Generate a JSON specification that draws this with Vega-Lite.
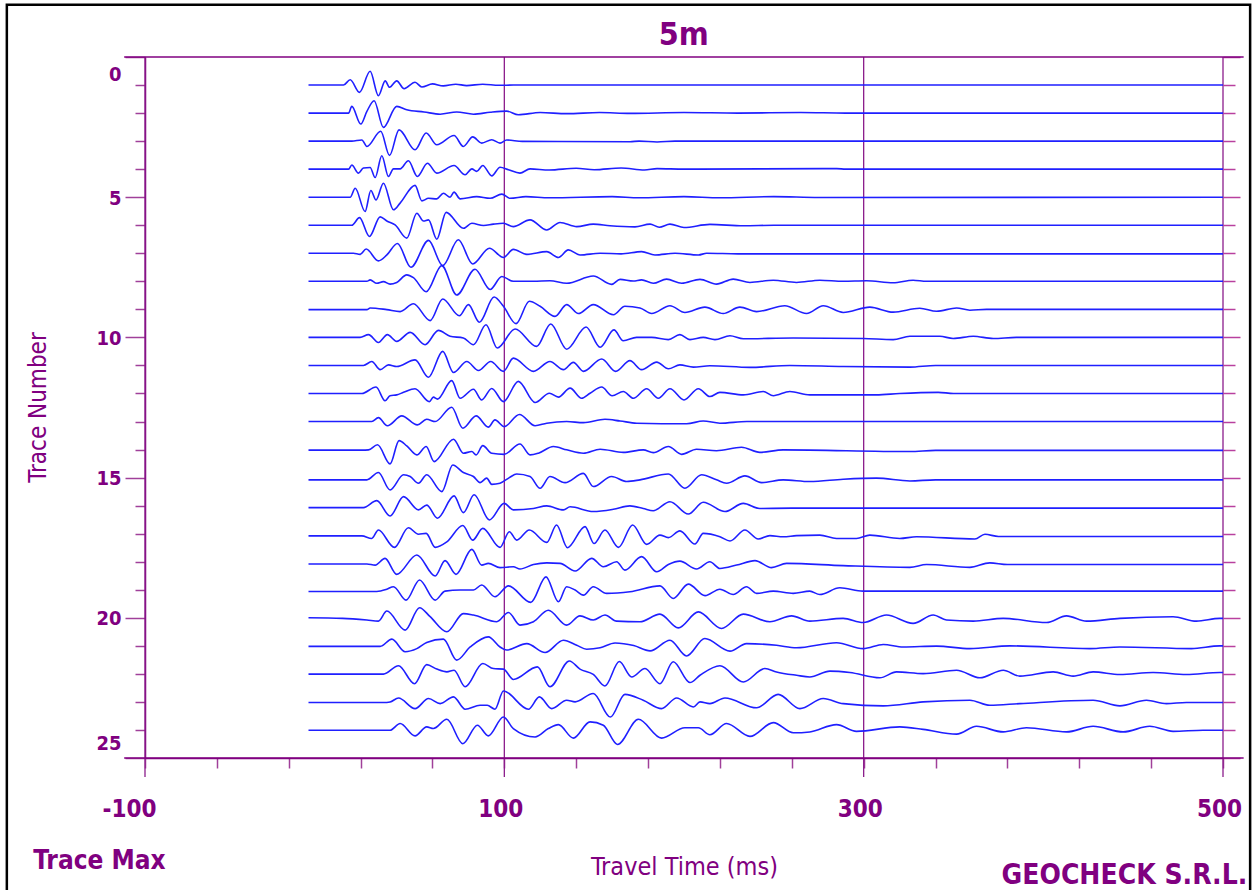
{
"$schema": "https://vega.github.io/schema/vega-lite/v6.json",
"width": 1078, "height": 701,
"autosize": {"type": "none"},
"padding": {"left": 145, "top": 57, "right": 34, "bottom": 132},
"background": "white",
"config": {"view": {"stroke": null}},
"resolve": {"axis": {"x": "independent", "y": "independent"}},
"datasets": {"traces": [
{"tr":1,"t":-9,"y":1},{"tr":1,"t":10.5,"y":1},{"tr":1,"t":14.2,"y":0.81},{"tr":1,"t":19.4,"y":1.26},{"tr":1,"t":25.3,"y":0.51},{"tr":1,"t":29.9,"y":1.38},{"tr":1,"t":33.7,"y":0.85},{"tr":1,"t":36.1,"y":1.08},{"tr":1,"t":40.1,"y":0.85},{"tr":1,"t":44.2,"y":1.13},{"tr":1,"t":50.3,"y":0.9},{"tr":1,"t":54.1,"y":1.07},{"tr":1,"t":60,"y":0.96},{"tr":1,"t":66,"y":1.03},{"tr":1,"t":73,"y":0.97},{"tr":1,"t":79,"y":1.02},{"tr":1,"t":88,"y":0.97},{"tr":1,"t":97,"y":1.01},{"tr":1,"t":105,"y":1},{"tr":1,"t":500,"y":1},
{"tr":2,"t":-9,"y":2},{"tr":2,"t":13.3,"y":2},{"tr":2,"t":15.1,"y":1.76},{"tr":2,"t":20.1,"y":2.39},{"tr":2,"t":23.5,"y":1.94},{"tr":2,"t":27.5,"y":1.56},{"tr":2,"t":32.7,"y":2.51},{"tr":2,"t":40.1,"y":1.76},{"tr":2,"t":45.7,"y":1.88},{"tr":2,"t":55.3,"y":1.96},{"tr":2,"t":64.3,"y":2.04},{"tr":2,"t":73.5,"y":1.96},{"tr":2,"t":82.8,"y":2.04},{"tr":2,"t":92.1,"y":1.97},{"tr":2,"t":101.3,"y":1.93},{"tr":2,"t":107.8,"y":2.06},{"tr":2,"t":119.9,"y":1.98},{"tr":2,"t":134.7,"y":2.02},{"tr":2,"t":153,"y":1.98},{"tr":2,"t":170,"y":2.01},{"tr":2,"t":200,"y":1.98},{"tr":2,"t":230,"y":2},{"tr":2,"t":265,"y":1.98},{"tr":2,"t":290,"y":2},{"tr":2,"t":500,"y":2},
{"tr":3,"t":-9,"y":3},{"tr":3,"t":15.1,"y":3},{"tr":3,"t":20.7,"y":2.96},{"tr":3,"t":23.5,"y":3.19},{"tr":3,"t":31.2,"y":2.65},{"tr":3,"t":36.1,"y":3.51},{"tr":3,"t":41.4,"y":2.6},{"tr":3,"t":50.3,"y":3.31},{"tr":3,"t":56.5,"y":2.71},{"tr":3,"t":62.4,"y":3.13},{"tr":3,"t":72,"y":2.8},{"tr":3,"t":77.2,"y":3.19},{"tr":3,"t":82.4,"y":2.85},{"tr":3,"t":87.4,"y":3.07},{"tr":3,"t":93,"y":2.95},{"tr":3,"t":97.6,"y":3.07},{"tr":3,"t":101.3,"y":2.96},{"tr":3,"t":110,"y":3.01},{"tr":3,"t":170,"y":3.02},{"tr":3,"t":175,"y":3},{"tr":3,"t":185,"y":3.03},{"tr":3,"t":195,"y":3},{"tr":3,"t":500,"y":3},
{"tr":4,"t":-9,"y":4},{"tr":4,"t":13.3,"y":4},{"tr":4,"t":15.1,"y":3.85},{"tr":4,"t":18.8,"y":4.14},{"tr":4,"t":21.6,"y":3.96},{"tr":4,"t":25.3,"y":3.94},{"tr":4,"t":28.1,"y":4.3},{"tr":4,"t":31.8,"y":3.52},{"tr":4,"t":35.5,"y":4.26},{"tr":4,"t":38.3,"y":3.99},{"tr":4,"t":42,"y":3.99},{"tr":4,"t":46.6,"y":3.7},{"tr":4,"t":51.6,"y":4.26},{"tr":4,"t":57.2,"y":3.79},{"tr":4,"t":62.4,"y":4.14},{"tr":4,"t":72,"y":3.87},{"tr":4,"t":78.2,"y":4.2},{"tr":4,"t":81.9,"y":3.99},{"tr":4,"t":84.6,"y":4.08},{"tr":4,"t":88,"y":3.87},{"tr":4,"t":93,"y":4.24},{"tr":4,"t":97.6,"y":3.93},{"tr":4,"t":102.3,"y":4.02},{"tr":4,"t":108.7,"y":4.14},{"tr":4,"t":114.3,"y":3.99},{"tr":4,"t":125,"y":4.03},{"tr":4,"t":140,"y":3.97},{"tr":4,"t":150,"y":4.02},{"tr":4,"t":165,"y":3.96},{"tr":4,"t":178,"y":4.03},{"tr":4,"t":185,"y":3.98},{"tr":4,"t":200,"y":4},{"tr":4,"t":285,"y":3.98},{"tr":4,"t":290,"y":4},{"tr":4,"t":500,"y":4},
{"tr":5,"t":-9,"y":5},{"tr":5,"t":14.2,"y":5},{"tr":5,"t":17,"y":4.68},{"tr":5,"t":22.5,"y":5.51},{"tr":5,"t":25.7,"y":4.76},{"tr":5,"t":28.6,"y":5.1},{"tr":5,"t":32.7,"y":4.5},{"tr":5,"t":38.3,"y":5.45},{"tr":5,"t":42,"y":5.21},{"tr":5,"t":50.3,"y":4.58},{"tr":5,"t":54.1,"y":5.13},{"tr":5,"t":57.8,"y":5.04},{"tr":5,"t":62.4,"y":5.06},{"tr":5,"t":66.1,"y":4.86},{"tr":5,"t":69.8,"y":5},{"tr":5,"t":72,"y":4.82},{"tr":5,"t":75.4,"y":5.06},{"tr":5,"t":84.6,"y":4.98},{"tr":5,"t":92.1,"y":5.04},{"tr":5,"t":98.6,"y":4.89},{"tr":5,"t":103.2,"y":5.04},{"tr":5,"t":112,"y":4.98},{"tr":5,"t":125,"y":5.02},{"tr":5,"t":160,"y":4.98},{"tr":5,"t":175,"y":5.02},{"tr":5,"t":200,"y":4.98},{"tr":5,"t":220,"y":5.02},{"tr":5,"t":250,"y":4.98},{"tr":5,"t":275,"y":5.01},{"tr":5,"t":500,"y":5},
{"tr":6,"t":-9,"y":6},{"tr":6,"t":15.1,"y":6},{"tr":6,"t":19.4,"y":5.73},{"tr":6,"t":24.9,"y":6.4},{"tr":6,"t":30.9,"y":5.7},{"tr":6,"t":34.6,"y":5.85},{"tr":6,"t":39.2,"y":5.99},{"tr":6,"t":45.7,"y":6.46},{"tr":6,"t":51.3,"y":5.57},{"tr":6,"t":55,"y":5.85},{"tr":6,"t":57.8,"y":5.81},{"tr":6,"t":62.4,"y":6.5},{"tr":6,"t":67.6,"y":5.54},{"tr":6,"t":77.2,"y":6.11},{"tr":6,"t":81.9,"y":5.93},{"tr":6,"t":88.4,"y":6.01},{"tr":6,"t":93.9,"y":5.96},{"tr":6,"t":99.5,"y":5.93},{"tr":6,"t":105,"y":6.05},{"tr":6,"t":114.3,"y":5.81},{"tr":6,"t":123.6,"y":6.17},{"tr":6,"t":131,"y":5.9},{"tr":6,"t":140.3,"y":6.05},{"tr":6,"t":149.5,"y":5.96},{"tr":6,"t":158.8,"y":6.02},{"tr":6,"t":172.7,"y":6.06},{"tr":6,"t":181.1,"y":5.96},{"tr":6,"t":186.2,"y":6.07},{"tr":6,"t":192.2,"y":5.96},{"tr":6,"t":200,"y":6.08},{"tr":6,"t":214.4,"y":5.97},{"tr":6,"t":233,"y":6.02},{"tr":6,"t":250,"y":6},{"tr":6,"t":500,"y":6},
{"tr":7,"t":-9,"y":7},{"tr":7,"t":16,"y":7},{"tr":7,"t":19.7,"y":7.04},{"tr":7,"t":23.1,"y":6.85},{"tr":7,"t":29.9,"y":7.27},{"tr":7,"t":34.6,"y":7.06},{"tr":7,"t":40.5,"y":6.65},{"tr":7,"t":48,"y":7.5},{"tr":7,"t":57.8,"y":6.54},{"tr":7,"t":65.7,"y":7.44},{"tr":7,"t":74.4,"y":6.52},{"tr":7,"t":82.4,"y":7.38},{"tr":7,"t":91.7,"y":6.82},{"tr":7,"t":99.5,"y":7.15},{"tr":7,"t":105,"y":6.86},{"tr":7,"t":112.5,"y":7.04},{"tr":7,"t":123.6,"y":6.94},{"tr":7,"t":130.1,"y":7.15},{"tr":7,"t":135.6,"y":6.88},{"tr":7,"t":142.1,"y":7.06},{"tr":7,"t":153.3,"y":7},{"tr":7,"t":165,"y":7.02},{"tr":7,"t":176.4,"y":6.94},{"tr":7,"t":183.8,"y":7.06},{"tr":7,"t":195,"y":7},{"tr":7,"t":208,"y":7.06},{"tr":7,"t":212.6,"y":7},{"tr":7,"t":230,"y":7.02},{"tr":7,"t":500,"y":7.02},
{"tr":8,"t":-9,"y":8},{"tr":8,"t":23.5,"y":8},{"tr":8,"t":25.3,"y":7.95},{"tr":8,"t":29,"y":8.07},{"tr":8,"t":32.7,"y":8.01},{"tr":8,"t":36.4,"y":8.1},{"tr":8,"t":40.1,"y":8.04},{"tr":8,"t":45.7,"y":7.77},{"tr":8,"t":49.4,"y":7.87},{"tr":8,"t":56.5,"y":8.37},{"tr":8,"t":65.2,"y":7.44},{"tr":8,"t":73.5,"y":8.49},{"tr":8,"t":83.7,"y":7.57},{"tr":8,"t":92.1,"y":8.29},{"tr":8,"t":98.6,"y":7.83},{"tr":8,"t":105,"y":8},{"tr":8,"t":116.2,"y":8},{"tr":8,"t":125.4,"y":7.98},{"tr":8,"t":134.7,"y":8.07},{"tr":8,"t":149.5,"y":7.81},{"tr":8,"t":159.7,"y":8.11},{"tr":8,"t":164.4,"y":7.93},{"tr":8,"t":171.8,"y":7.99},{"tr":8,"t":176.4,"y":7.95},{"tr":8,"t":182.9,"y":8.07},{"tr":8,"t":190.3,"y":7.92},{"tr":8,"t":198.7,"y":8.07},{"tr":8,"t":208.9,"y":7.93},{"tr":8,"t":218.1,"y":8.1},{"tr":8,"t":227.4,"y":7.92},{"tr":8,"t":236.7,"y":8.04},{"tr":8,"t":249.7,"y":7.96},{"tr":8,"t":262.6,"y":8.04},{"tr":8,"t":275.6,"y":7.96},{"tr":8,"t":288.6,"y":8},{"tr":8,"t":301.6,"y":7.98},{"tr":8,"t":316.4,"y":8.05},{"tr":8,"t":327.5,"y":7.96},{"tr":8,"t":335,"y":8},{"tr":8,"t":500,"y":8},
{"tr":9,"t":-9,"y":9.01},{"tr":9,"t":23.5,"y":9.01},{"tr":9,"t":25.3,"y":8.95},{"tr":9,"t":34.6,"y":9.01},{"tr":9,"t":42,"y":9.08},{"tr":9,"t":49.4,"y":8.8},{"tr":9,"t":58.7,"y":9.4},{"tr":9,"t":65.7,"y":8.63},{"tr":9,"t":75,"y":9.23},{"tr":9,"t":80,"y":8.83},{"tr":9,"t":86.1,"y":9.46},{"tr":9,"t":94.3,"y":8.56},{"tr":9,"t":99.5,"y":8.89},{"tr":9,"t":106.5,"y":9.51},{"tr":9,"t":113.9,"y":8.71},{"tr":9,"t":119.9,"y":8.89},{"tr":9,"t":128.2,"y":9.25},{"tr":9,"t":134.7,"y":8.83},{"tr":9,"t":141.2,"y":9.15},{"tr":9,"t":149.5,"y":8.83},{"tr":9,"t":160.7,"y":9.19},{"tr":9,"t":167.1,"y":8.89},{"tr":9,"t":175.5,"y":8.95},{"tr":9,"t":182,"y":9.15},{"tr":9,"t":192.2,"y":8.87},{"tr":9,"t":200.5,"y":9.11},{"tr":9,"t":211.6,"y":8.92},{"tr":9,"t":221.8,"y":9.15},{"tr":9,"t":231.1,"y":8.92},{"tr":9,"t":240.4,"y":9.08},{"tr":9,"t":256.1,"y":8.87},{"tr":9,"t":268.2,"y":9.15},{"tr":9,"t":277.5,"y":8.87},{"tr":9,"t":288.6,"y":9.11},{"tr":9,"t":303.4,"y":8.92},{"tr":9,"t":316.4,"y":9.1},{"tr":9,"t":331.2,"y":8.96},{"tr":9,"t":340.6,"y":9.07},{"tr":9,"t":351.7,"y":8.95},{"tr":9,"t":359.1,"y":9.03},{"tr":9,"t":368.4,"y":9},{"tr":9,"t":500,"y":9},
{"tr":10,"t":-9,"y":10},{"tr":10,"t":19.7,"y":10},{"tr":10,"t":24.4,"y":9.9},{"tr":10,"t":29.9,"y":10.18},{"tr":10,"t":34.9,"y":9.9},{"tr":10,"t":40.1,"y":10.14},{"tr":10,"t":47.6,"y":9.82},{"tr":10,"t":55.9,"y":10.26},{"tr":10,"t":63.3,"y":9.75},{"tr":10,"t":69.8,"y":9.96},{"tr":10,"t":77.2,"y":10.02},{"tr":10,"t":82.8,"y":10.26},{"tr":10,"t":89.8,"y":9.55},{"tr":10,"t":96.1,"y":10.38},{"tr":10,"t":106,"y":9.7},{"tr":10,"t":118,"y":10.32},{"tr":10,"t":125.8,"y":9.52},{"tr":10,"t":134.7,"y":10.42},{"tr":10,"t":145.5,"y":9.63},{"tr":10,"t":153.3,"y":10.35},{"tr":10,"t":161,"y":9.73},{"tr":10,"t":166.2,"y":10.12},{"tr":10,"t":173.6,"y":10},{"tr":10,"t":182,"y":10},{"tr":10,"t":191.3,"y":10.08},{"tr":10,"t":197.7,"y":9.9},{"tr":10,"t":203.3,"y":10.08},{"tr":10,"t":210.7,"y":10},{"tr":10,"t":217.2,"y":10.08},{"tr":10,"t":225.6,"y":9.94},{"tr":10,"t":233,"y":10.05},{"tr":10,"t":260.8,"y":10.02},{"tr":10,"t":299.7,"y":10.04},{"tr":10,"t":316.4,"y":10.08},{"tr":10,"t":325.7,"y":9.96},{"tr":10,"t":342.4,"y":9.96},{"tr":10,"t":349.8,"y":10.04},{"tr":10,"t":361,"y":9.96},{"tr":10,"t":372.1,"y":10.04},{"tr":10,"t":385,"y":10},{"tr":10,"t":500,"y":10},
{"tr":11,"t":-9,"y":11},{"tr":11,"t":21.6,"y":11},{"tr":11,"t":26.2,"y":10.86},{"tr":11,"t":30.9,"y":11.15},{"tr":11,"t":35.5,"y":10.98},{"tr":11,"t":40.1,"y":11.04},{"tr":11,"t":50.3,"y":10.8},{"tr":11,"t":57.8,"y":11.42},{"tr":11,"t":65.7,"y":10.5},{"tr":11,"t":71.7,"y":11.25},{"tr":11,"t":79.1,"y":10.86},{"tr":11,"t":85.6,"y":11.18},{"tr":11,"t":92.4,"y":10.86},{"tr":11,"t":99.5,"y":11.21},{"tr":11,"t":105,"y":10.74},{"tr":11,"t":116.2,"y":11.21},{"tr":11,"t":125.4,"y":10.86},{"tr":11,"t":132.9,"y":11.15},{"tr":11,"t":138.4,"y":10.89},{"tr":11,"t":144,"y":11.21},{"tr":11,"t":154.2,"y":10.77},{"tr":11,"t":162,"y":11.21},{"tr":11,"t":169.9,"y":10.83},{"tr":11,"t":176.4,"y":11.15},{"tr":11,"t":184.8,"y":10.88},{"tr":11,"t":191.3,"y":11.12},{"tr":11,"t":197.7,"y":10.98},{"tr":11,"t":205.2,"y":11.06},{"tr":11,"t":214.4,"y":11.01},{"tr":11,"t":236.7,"y":11.07},{"tr":11,"t":258.9,"y":11},{"tr":11,"t":288.6,"y":11.04},{"tr":11,"t":325.7,"y":11.06},{"tr":11,"t":340,"y":11},{"tr":11,"t":500,"y":11},
{"tr":12,"t":-9,"y":12},{"tr":12,"t":20.7,"y":12},{"tr":12,"t":28.6,"y":11.77},{"tr":12,"t":33.6,"y":12.26},{"tr":12,"t":36.4,"y":12.08},{"tr":12,"t":40.1,"y":12.05},{"tr":12,"t":43.9,"y":11.96},{"tr":12,"t":50.3,"y":11.83},{"tr":12,"t":58.3,"y":12.29},{"tr":12,"t":60.5,"y":12.13},{"tr":12,"t":62.8,"y":12.2},{"tr":12,"t":70.7,"y":11.54},{"tr":12,"t":75.4,"y":12.17},{"tr":12,"t":82.8,"y":11.85},{"tr":12,"t":87.4,"y":12.23},{"tr":12,"t":93,"y":11.82},{"tr":12,"t":99.5,"y":12.29},{"tr":12,"t":107.8,"y":11.57},{"tr":12,"t":117.1,"y":12.32},{"tr":12,"t":125.1,"y":11.99},{"tr":12,"t":130.1,"y":12.13},{"tr":12,"t":136.6,"y":11.81},{"tr":12,"t":143,"y":12.17},{"tr":12,"t":147.7,"y":11.99},{"tr":12,"t":154.2,"y":11.77},{"tr":12,"t":160,"y":12.08},{"tr":12,"t":166.2,"y":11.93},{"tr":12,"t":171.8,"y":12.17},{"tr":12,"t":179.2,"y":11.83},{"tr":12,"t":185.7,"y":12.17},{"tr":12,"t":192.2,"y":11.83},{"tr":12,"t":200,"y":12.23},{"tr":12,"t":208,"y":11.83},{"tr":12,"t":214.4,"y":12.11},{"tr":12,"t":220,"y":11.96},{"tr":12,"t":233,"y":12.05},{"tr":12,"t":244.1,"y":11.93},{"tr":12,"t":249.7,"y":12.08},{"tr":12,"t":258.9,"y":11.93},{"tr":12,"t":270,"y":12.05},{"tr":12,"t":307,"y":12.05},{"tr":12,"t":320,"y":12},{"tr":12,"t":341.5,"y":11.96},{"tr":12,"t":350,"y":12},{"tr":12,"t":500,"y":12},
{"tr":13,"t":-9,"y":13},{"tr":13,"t":26.2,"y":13},{"tr":13,"t":29.9,"y":12.86},{"tr":13,"t":34.9,"y":13.15},{"tr":13,"t":42.9,"y":12.8},{"tr":13,"t":51.6,"y":13.12},{"tr":13,"t":56.8,"y":12.92},{"tr":13,"t":61.5,"y":13},{"tr":13,"t":70.7,"y":12.49},{"tr":13,"t":76.9,"y":13.24},{"tr":13,"t":84.3,"y":12.8},{"tr":13,"t":91.1,"y":13.2},{"tr":13,"t":94.8,"y":12.94},{"tr":13,"t":99.9,"y":13.18},{"tr":13,"t":108.4,"y":12.75},{"tr":13,"t":117.1,"y":13.15},{"tr":13,"t":123.6,"y":13.06},{"tr":13,"t":134.7,"y":13},{"tr":13,"t":144,"y":13.04},{"tr":13,"t":156,"y":12.92},{"tr":13,"t":164.4,"y":12.98},{"tr":13,"t":173.6,"y":13.06},{"tr":13,"t":201.5,"y":13.08},{"tr":13,"t":210.7,"y":12.98},{"tr":13,"t":220,"y":13.06},{"tr":13,"t":235,"y":13},{"tr":13,"t":500,"y":13},
{"tr":14,"t":-9,"y":14.02},{"tr":14,"t":20.7,"y":14.02},{"tr":14,"t":24.4,"y":14.01},{"tr":14,"t":29.4,"y":13.83},{"tr":14,"t":36.4,"y":14.51},{"tr":14,"t":41.4,"y":13.68},{"tr":14,"t":45.7,"y":13.87},{"tr":14,"t":51.3,"y":14.19},{"tr":14,"t":56.5,"y":13.89},{"tr":14,"t":60.9,"y":14.43},{"tr":14,"t":71.7,"y":13.63},{"tr":14,"t":77.2,"y":14.13},{"tr":14,"t":81.9,"y":14.07},{"tr":14,"t":84.3,"y":14.19},{"tr":14,"t":88,"y":13.86},{"tr":14,"t":93,"y":14.13},{"tr":14,"t":99.9,"y":14.17},{"tr":14,"t":108.7,"y":13.8},{"tr":14,"t":114.3,"y":14.19},{"tr":14,"t":119,"y":14.13},{"tr":14,"t":127.3,"y":13.89},{"tr":14,"t":134.7,"y":14.01},{"tr":14,"t":144,"y":14.13},{"tr":14,"t":153.3,"y":13.99},{"tr":14,"t":166.2,"y":14.1},{"tr":14,"t":177.3,"y":14.01},{"tr":14,"t":182.9,"y":14.11},{"tr":14,"t":191.3,"y":13.89},{"tr":14,"t":198.7,"y":14.17},{"tr":14,"t":207,"y":13.99},{"tr":14,"t":218.1,"y":14.04},{"tr":14,"t":232,"y":13.92},{"tr":14,"t":242.2,"y":14.1},{"tr":14,"t":255.2,"y":14.01},{"tr":14,"t":325.7,"y":14.07},{"tr":14,"t":340,"y":14.03},{"tr":14,"t":500,"y":14.03},
{"tr":15,"t":-9,"y":15.08},{"tr":15,"t":23.5,"y":15.08},{"tr":15,"t":29.9,"y":14.82},{"tr":15,"t":36.4,"y":15.44},{"tr":15,"t":43.9,"y":14.9},{"tr":15,"t":47.6,"y":14.96},{"tr":15,"t":52.2,"y":15.2},{"tr":15,"t":56.8,"y":14.9},{"tr":15,"t":65.2,"y":15.5},{"tr":15,"t":71.3,"y":14.55},{"tr":15,"t":77.2,"y":14.82},{"tr":15,"t":82.8,"y":14.96},{"tr":15,"t":86.5,"y":15.18},{"tr":15,"t":90.2,"y":15.02},{"tr":15,"t":93,"y":15.24},{"tr":15,"t":97.6,"y":15.2},{"tr":15,"t":102.8,"y":15},{"tr":15,"t":106.9,"y":14.87},{"tr":15,"t":114.3,"y":14.96},{"tr":15,"t":119.9,"y":15.38},{"tr":15,"t":125.4,"y":14.96},{"tr":15,"t":133.8,"y":15.18},{"tr":15,"t":144,"y":14.85},{"tr":15,"t":149.5,"y":15.32},{"tr":15,"t":159.7,"y":14.96},{"tr":15,"t":168.1,"y":15.14},{"tr":15,"t":175.5,"y":15.08},{"tr":15,"t":191.3,"y":14.87},{"tr":15,"t":200.5,"y":15.38},{"tr":15,"t":209.8,"y":14.9},{"tr":15,"t":218.1,"y":15.08},{"tr":15,"t":223.7,"y":15.2},{"tr":15,"t":233.9,"y":14.94},{"tr":15,"t":243.2,"y":15.18},{"tr":15,"t":255.2,"y":15.08},{"tr":15,"t":270,"y":15.14},{"tr":15,"t":288.6,"y":15.06},{"tr":15,"t":307.1,"y":15.02},{"tr":15,"t":325.7,"y":15.12},{"tr":15,"t":340,"y":15.08},{"tr":15,"t":500,"y":15.08},
{"tr":16,"t":-9,"y":16.07},{"tr":16,"t":21.6,"y":16.07},{"tr":16,"t":29,"y":15.82},{"tr":16,"t":36.4,"y":16.37},{"tr":16,"t":43.9,"y":15.68},{"tr":16,"t":52.2,"y":16.15},{"tr":16,"t":56.8,"y":15.98},{"tr":16,"t":62.8,"y":16.45},{"tr":16,"t":72,"y":15.65},{"tr":16,"t":77.2,"y":16.25},{"tr":16,"t":83.2,"y":15.61},{"tr":16,"t":91.7,"y":16.51},{"tr":16,"t":99.9,"y":15.92},{"tr":16,"t":105,"y":16.15},{"tr":16,"t":116.2,"y":16.1},{"tr":16,"t":123.6,"y":16.01},{"tr":16,"t":132.9,"y":16.15},{"tr":16,"t":136.6,"y":16.04},{"tr":16,"t":149.5,"y":16.21},{"tr":16,"t":160.7,"y":16.13},{"tr":16,"t":169.9,"y":16.01},{"tr":16,"t":177.3,"y":16.1},{"tr":16,"t":182.9,"y":16.18},{"tr":16,"t":192.2,"y":15.86},{"tr":16,"t":202.4,"y":16.3},{"tr":16,"t":210.7,"y":15.88},{"tr":16,"t":222.8,"y":16.21},{"tr":16,"t":233,"y":15.92},{"tr":16,"t":242.2,"y":16.1},{"tr":16,"t":260,"y":16.09},{"tr":16,"t":500,"y":16.09},
{"tr":17,"t":-9,"y":17.08},{"tr":17,"t":20.7,"y":17.08},{"tr":17,"t":26.2,"y":17.17},{"tr":17,"t":29.9,"y":16.87},{"tr":17,"t":38.8,"y":17.49},{"tr":17,"t":46.6,"y":16.79},{"tr":17,"t":52.2,"y":17.02},{"tr":17,"t":56.5,"y":16.99},{"tr":17,"t":61.5,"y":17.49},{"tr":17,"t":68,"y":17.29},{"tr":17,"t":76.9,"y":16.71},{"tr":17,"t":82.4,"y":17.23},{"tr":17,"t":88,"y":16.81},{"tr":17,"t":97.6,"y":17.49},{"tr":17,"t":102.8,"y":16.93},{"tr":17,"t":106.9,"y":17.23},{"tr":17,"t":113.9,"y":16.87},{"tr":17,"t":123.6,"y":17.31},{"tr":17,"t":129.1,"y":16.69},{"tr":17,"t":135.1,"y":17.5},{"tr":17,"t":144.9,"y":16.75},{"tr":17,"t":149.9,"y":17.35},{"tr":17,"t":156,"y":16.87},{"tr":17,"t":163.5,"y":17.49},{"tr":17,"t":171.4,"y":16.69},{"tr":17,"t":179.2,"y":17.38},{"tr":17,"t":186.6,"y":17.05},{"tr":17,"t":191.3,"y":17.14},{"tr":17,"t":197.7,"y":16.9},{"tr":17,"t":206.1,"y":17.37},{"tr":17,"t":210.7,"y":16.99},{"tr":17,"t":220,"y":17.11},{"tr":17,"t":225.6,"y":17.26},{"tr":17,"t":233.9,"y":16.87},{"tr":17,"t":241.3,"y":17.19},{"tr":17,"t":247.8,"y":17.07},{"tr":17,"t":255.2,"y":17.11},{"tr":17,"t":262.6,"y":17.07},{"tr":17,"t":275.6,"y":17.05},{"tr":17,"t":284.9,"y":17.17},{"tr":17,"t":296,"y":17.17},{"tr":17,"t":303.4,"y":17.05},{"tr":17,"t":320.1,"y":17.17},{"tr":17,"t":329.4,"y":17.11},{"tr":17,"t":361.9,"y":17.19},{"tr":17,"t":367.5,"y":17.02},{"tr":17,"t":375,"y":17.1},{"tr":17,"t":500,"y":17.1},
{"tr":18,"t":-9,"y":18.08},{"tr":18,"t":23.5,"y":18.08},{"tr":18,"t":28.1,"y":18.12},{"tr":18,"t":33.6,"y":17.88},{"tr":18,"t":40.1,"y":18.45},{"tr":18,"t":51.3,"y":17.76},{"tr":18,"t":61.5,"y":18.51},{"tr":18,"t":67,"y":17.96},{"tr":18,"t":73.1,"y":18.45},{"tr":18,"t":81.9,"y":17.56},{"tr":18,"t":87.4,"y":18.12},{"tr":18,"t":91.1,"y":18.06},{"tr":18,"t":97.6,"y":18.21},{"tr":18,"t":105,"y":18.18},{"tr":18,"t":108.7,"y":18.26},{"tr":18,"t":116.2,"y":18.1},{"tr":18,"t":123.6,"y":18.04},{"tr":18,"t":131,"y":18.06},{"tr":18,"t":139.4,"y":18.33},{"tr":18,"t":148.6,"y":17.88},{"tr":18,"t":155.1,"y":18.18},{"tr":18,"t":162.5,"y":18},{"tr":18,"t":167.1,"y":18.3},{"tr":18,"t":176.4,"y":17.82},{"tr":18,"t":184.8,"y":18.36},{"tr":18,"t":191.3,"y":18.1},{"tr":18,"t":197.7,"y":17.98},{"tr":18,"t":207,"y":18.26},{"tr":18,"t":214.4,"y":18},{"tr":18,"t":220,"y":18.24},{"tr":18,"t":229.3,"y":18.12},{"tr":18,"t":239.5,"y":17.96},{"tr":18,"t":248.7,"y":18.21},{"tr":18,"t":257.1,"y":18.06},{"tr":18,"t":288.6,"y":18.14},{"tr":18,"t":325.7,"y":18.2},{"tr":18,"t":335,"y":18.1},{"tr":18,"t":359.1,"y":18.2},{"tr":18,"t":370.2,"y":18.04},{"tr":18,"t":380,"y":18.1},{"tr":18,"t":500,"y":18.1},
{"tr":19,"t":-9,"y":19.06},{"tr":19,"t":29,"y":19.06},{"tr":19,"t":34.6,"y":18.98},{"tr":19,"t":38.3,"y":18.89},{"tr":19,"t":45.3,"y":19.37},{"tr":19,"t":52.8,"y":18.65},{"tr":19,"t":61.5,"y":19.37},{"tr":19,"t":67,"y":19.05},{"tr":19,"t":75.4,"y":19.01},{"tr":19,"t":82.8,"y":19.01},{"tr":19,"t":87.4,"y":18.83},{"tr":19,"t":94.8,"y":19.25},{"tr":19,"t":102.3,"y":18.86},{"tr":19,"t":114.7,"y":19.45},{"tr":19,"t":123.2,"y":18.54},{"tr":19,"t":130.1,"y":19.43},{"tr":19,"t":134.7,"y":18.89},{"tr":19,"t":139.4,"y":19.01},{"tr":19,"t":144,"y":19.19},{"tr":19,"t":149.5,"y":18.89},{"tr":19,"t":157,"y":19.13},{"tr":19,"t":169.9,"y":19.07},{"tr":19,"t":186.6,"y":18.86},{"tr":19,"t":194,"y":19.31},{"tr":19,"t":202.4,"y":18.8},{"tr":19,"t":211.7,"y":19.21},{"tr":19,"t":220,"y":18.98},{"tr":19,"t":227.4,"y":19.17},{"tr":19,"t":234.8,"y":18.89},{"tr":19,"t":240.4,"y":19.13},{"tr":19,"t":249.7,"y":19.05},{"tr":19,"t":260.8,"y":19.13},{"tr":19,"t":270,"y":19.05},{"tr":19,"t":275.6,"y":19.17},{"tr":19,"t":286.7,"y":18.93},{"tr":19,"t":299.7,"y":19.05},{"tr":19,"t":500,"y":19.05},
{"tr":20,"t":-9,"y":20},{"tr":20,"t":10,"y":20.02},{"tr":20,"t":23.5,"y":20.08},{"tr":20,"t":29.9,"y":20.12},{"tr":20,"t":34.6,"y":19.76},{"tr":20,"t":44.8,"y":20.44},{"tr":20,"t":52.8,"y":19.64},{"tr":20,"t":58.7,"y":19.96},{"tr":20,"t":68,"y":20.5},{"tr":20,"t":77.2,"y":19.85},{"tr":20,"t":82.8,"y":19.9},{"tr":20,"t":95.8,"y":20.14},{"tr":20,"t":102.3,"y":19.81},{"tr":20,"t":108.7,"y":20.26},{"tr":20,"t":116.2,"y":20.14},{"tr":20,"t":124.5,"y":19.73},{"tr":20,"t":134.7,"y":20.26},{"tr":20,"t":142.1,"y":19.93},{"tr":20,"t":149.5,"y":20.08},{"tr":20,"t":156,"y":19.9},{"tr":20,"t":162.5,"y":20.12},{"tr":20,"t":175.5,"y":20.14},{"tr":20,"t":186.6,"y":19.87},{"tr":20,"t":196.8,"y":20.36},{"tr":20,"t":208,"y":19.79},{"tr":20,"t":220.9,"y":20.38},{"tr":20,"t":233,"y":19.87},{"tr":20,"t":247.8,"y":20.14},{"tr":20,"t":259.9,"y":19.93},{"tr":20,"t":270,"y":20.12},{"tr":20,"t":288.6,"y":20.02},{"tr":20,"t":299.7,"y":20.17},{"tr":20,"t":312.7,"y":19.9},{"tr":20,"t":327.5,"y":20.2},{"tr":20,"t":338.7,"y":19.9},{"tr":20,"t":346.1,"y":20.08},{"tr":20,"t":361,"y":20.12},{"tr":20,"t":377.7,"y":20.02},{"tr":20,"t":401.8,"y":20.17},{"tr":20,"t":412.9,"y":19.93},{"tr":20,"t":424,"y":20.12},{"tr":20,"t":442.6,"y":20.02},{"tr":20,"t":472.2,"y":19.96},{"tr":20,"t":485.2,"y":20.12},{"tr":20,"t":498.2,"y":20.02},{"tr":20,"t":500,"y":20.02},
{"tr":21,"t":-9,"y":21.02},{"tr":21,"t":30.9,"y":21.02},{"tr":21,"t":37.4,"y":20.76},{"tr":21,"t":44.8,"y":21.21},{"tr":21,"t":51.3,"y":21.1},{"tr":21,"t":56.8,"y":20.88},{"tr":21,"t":66.1,"y":20.76},{"tr":21,"t":73.5,"y":21.51},{"tr":21,"t":81,"y":21.04},{"tr":21,"t":91.1,"y":20.68},{"tr":21,"t":97.6,"y":21.04},{"tr":21,"t":101.3,"y":21.15},{"tr":21,"t":112.5,"y":20.92},{"tr":21,"t":122.7,"y":21.24},{"tr":21,"t":132.9,"y":20.8},{"tr":21,"t":140.3,"y":20.98},{"tr":21,"t":145.8,"y":21.12},{"tr":21,"t":153.3,"y":21.07},{"tr":21,"t":161.6,"y":20.9},{"tr":21,"t":172,"y":20.99},{"tr":21,"t":181.1,"y":21.18},{"tr":21,"t":192.2,"y":20.8},{"tr":21,"t":201.4,"y":21.36},{"tr":21,"t":211.6,"y":20.74},{"tr":21,"t":225.6,"y":21.19},{"tr":21,"t":234.8,"y":20.92},{"tr":21,"t":251.5,"y":20.98},{"tr":21,"t":262.6,"y":21.07},{"tr":21,"t":284.9,"y":20.89},{"tr":21,"t":299.7,"y":21.1},{"tr":21,"t":310.9,"y":20.95},{"tr":21,"t":322,"y":21.04},{"tr":21,"t":340.6,"y":21.01},{"tr":21,"t":359.1,"y":21.1},{"tr":21,"t":381.4,"y":21},{"tr":21,"t":425.9,"y":21.1},{"tr":21,"t":442.6,"y":21.04},{"tr":21,"t":482.4,"y":21.1},{"tr":21,"t":498.2,"y":21},{"tr":21,"t":500,"y":21},
{"tr":22,"t":-9,"y":22.01},{"tr":22,"t":32.7,"y":22.01},{"tr":22,"t":41.1,"y":21.71},{"tr":22,"t":50,"y":22.35},{"tr":22,"t":56.8,"y":21.67},{"tr":22,"t":62.4,"y":21.83},{"tr":22,"t":68,"y":21.93},{"tr":22,"t":72,"y":21.87},{"tr":22,"t":78.2,"y":22.46},{"tr":22,"t":88,"y":21.63},{"tr":22,"t":93.9,"y":21.81},{"tr":22,"t":99.5,"y":21.83},{"tr":22,"t":105,"y":22.2},{"tr":22,"t":118.4,"y":21.75},{"tr":22,"t":125.4,"y":22.46},{"tr":22,"t":136.2,"y":21.54},{"tr":22,"t":142.1,"y":21.83},{"tr":22,"t":149.5,"y":22.02},{"tr":22,"t":156,"y":22.43},{"tr":22,"t":164,"y":21.56},{"tr":22,"t":170.9,"y":22.11},{"tr":22,"t":178.3,"y":21.81},{"tr":22,"t":186.6,"y":22.35},{"tr":22,"t":194,"y":21.57},{"tr":22,"t":203.3,"y":22.31},{"tr":22,"t":208.9,"y":22.05},{"tr":22,"t":220,"y":21.71},{"tr":22,"t":233,"y":22.29},{"tr":22,"t":245,"y":21.81},{"tr":22,"t":251.5,"y":21.93},{"tr":22,"t":262.6,"y":22.05},{"tr":22,"t":270,"y":22.11},{"tr":22,"t":281.2,"y":21.9},{"tr":22,"t":292.3,"y":21.95},{"tr":22,"t":309,"y":22.14},{"tr":22,"t":318.3,"y":21.93},{"tr":22,"t":333.1,"y":21.99},{"tr":22,"t":351.7,"y":21.87},{"tr":22,"t":364.7,"y":22.14},{"tr":22,"t":377.7,"y":21.87},{"tr":22,"t":386.9,"y":22.08},{"tr":22,"t":405.5,"y":21.93},{"tr":22,"t":416.6,"y":22.08},{"tr":22,"t":427.7,"y":21.93},{"tr":22,"t":442.6,"y":22.02},{"tr":22,"t":461.1,"y":21.95},{"tr":22,"t":479.6,"y":22.02},{"tr":22,"t":498.2,"y":21.95},{"tr":22,"t":500,"y":21.95},
{"tr":23,"t":-9,"y":23.02},{"tr":23,"t":32.7,"y":23.02},{"tr":23,"t":36.4,"y":23},{"tr":23,"t":41.1,"y":22.86},{"tr":23,"t":50.3,"y":23.24},{"tr":23,"t":57.8,"y":22.88},{"tr":23,"t":64.3,"y":23.06},{"tr":23,"t":71.7,"y":22.82},{"tr":23,"t":78.2,"y":23.26},{"tr":23,"t":86.5,"y":23.12},{"tr":23,"t":90.5,"y":23.12},{"tr":23,"t":94.8,"y":23.26},{"tr":23,"t":99.5,"y":22.61},{"tr":23,"t":113.4,"y":23.26},{"tr":23,"t":119.5,"y":22.82},{"tr":23,"t":126.4,"y":23.24},{"tr":23,"t":134.7,"y":22.94},{"tr":23,"t":139.4,"y":23},{"tr":23,"t":149.5,"y":22.7},{"tr":23,"t":159,"y":23.54},{"tr":23,"t":167.1,"y":22.73},{"tr":23,"t":177.3,"y":22.94},{"tr":23,"t":187.5,"y":23.24},{"tr":23,"t":195.9,"y":22.86},{"tr":23,"t":205.2,"y":23.18},{"tr":23,"t":208.9,"y":23},{"tr":23,"t":214.4,"y":23.06},{"tr":23,"t":222.8,"y":22.86},{"tr":23,"t":240.4,"y":23.21},{"tr":23,"t":252.4,"y":22.73},{"tr":23,"t":264.5,"y":23.24},{"tr":23,"t":277.5,"y":22.88},{"tr":23,"t":288.6,"y":23.06},{"tr":23,"t":310.9,"y":23.14},{"tr":23,"t":333.1,"y":23},{"tr":23,"t":359.1,"y":22.94},{"tr":23,"t":370.2,"y":23.12},{"tr":23,"t":386.9,"y":23.06},{"tr":23,"t":427.7,"y":22.94},{"tr":23,"t":442.6,"y":23.14},{"tr":23,"t":457.4,"y":22.94},{"tr":23,"t":468.5,"y":23.06},{"tr":23,"t":479.6,"y":23.02},{"tr":23,"t":500,"y":23.02},
{"tr":24,"t":-9,"y":24.01},{"tr":24,"t":36.4,"y":24.01},{"tr":24,"t":42,"y":23.77},{"tr":24,"t":50.3,"y":24.21},{"tr":24,"t":56.8,"y":23.89},{"tr":24,"t":60.5,"y":23.95},{"tr":24,"t":68,"y":23.62},{"tr":24,"t":76.9,"y":24.49},{"tr":24,"t":85,"y":23.83},{"tr":24,"t":91.1,"y":24.21},{"tr":24,"t":99.5,"y":23.54},{"tr":24,"t":105,"y":23.95},{"tr":24,"t":117.1,"y":24.25},{"tr":24,"t":124.5,"y":23.95},{"tr":24,"t":130.1,"y":23.81},{"tr":24,"t":138.4,"y":24.29},{"tr":24,"t":147.7,"y":23.71},{"tr":24,"t":155.1,"y":23.83},{"tr":24,"t":163,"y":24.52},{"tr":24,"t":174.6,"y":23.62},{"tr":24,"t":187.5,"y":24.29},{"tr":24,"t":200.5,"y":23.92},{"tr":24,"t":208,"y":23.92},{"tr":24,"t":214.4,"y":24.17},{"tr":24,"t":223.7,"y":23.77},{"tr":24,"t":236.7,"y":24.23},{"tr":24,"t":249.7,"y":23.74},{"tr":24,"t":260.8,"y":24.1},{"tr":24,"t":270,"y":24.07},{"tr":24,"t":284.9,"y":23.81},{"tr":24,"t":296,"y":24.05},{"tr":24,"t":320.1,"y":23.89},{"tr":24,"t":333.1,"y":23.98},{"tr":24,"t":351.7,"y":24.15},{"tr":24,"t":362.8,"y":23.87},{"tr":24,"t":377.7,"y":24.07},{"tr":24,"t":390.6,"y":23.92},{"tr":24,"t":412.9,"y":24.07},{"tr":24,"t":427.7,"y":23.87},{"tr":24,"t":444.4,"y":24.07},{"tr":24,"t":459.2,"y":23.87},{"tr":24,"t":472.2,"y":24.05},{"tr":24,"t":488.9,"y":24.01},{"tr":24,"t":500,"y":24.01}
]},
"layer": [
{"data": {"values": [{"ms": -100}, {"ms": 100}, {"ms": 300}, {"ms": 500}]},
 "mark": {"type": "rule", "color": "#8b1c8b", "strokeWidth": 1.3},
 "encoding": {
  "x": {"field": "ms", "type": "quantitative", "axis": null},
  "y": {"datum": 0, "type": "quantitative", "axis": null},
  "y2": {"datum": 25.68}}},
{"data": {"name": "traces"},
 "mark": {"type": "line", "color": "#1f1fff", "strokeWidth": 1.6, "interpolate": "monotone"},
 "encoding": {
  "x": {"field": "t", "type": "quantitative", "scale": {"domain": [-100, 500], "nice": false, "zero": false},
   "axis": {"orient": "bottom", "values": [-100,-60,-20,20,60,100,140,180,220,260,300,340,380,420,460,500],
    "title": "Travel Time (ms)", "titleFont": "Liberation Sans Narrow, Arial Narrow, DejaVu Sans Condensed, sans-serif", "titleFontSize": 25, "titleFontWeight": "normal", "titleColor": "#800080", "titlePadding": 33,
    "domainColor": "#800080", "domainWidth": 1.5, "tickColor": "#a0409a", "tickWidth": 1.5, "tickSize": 10,
    "labelExpr": "(datum.value + 100) % 200 === 0 ? '' + datum.value : ''",
    "labelFont": "Liberation Sans Narrow, Arial Narrow, DejaVu Sans Condensed, sans-serif", "labelFontSize": 24, "labelFontWeight": "bold", "labelColor": "#800080", "labelPadding": 29,
    "labelOffset": {"condition": [{"test": "datum.value === -100", "value": -16}], "value": -4},
    "labelFlush": false, "labelOverlap": false, "grid": false}},
  "y": {"field": "y", "type": "quantitative", "scale": {"domain": [0, 25], "nice": false, "zero": false, "reverse": true},
   "axis": {"orient": "left", "values": [0,1,2,3,4,5,6,7,8,9,10,11,12,13,14,15,16,17,18,19,20,21,22,23,24,25],
    "title": "Trace Number", "titleFont": "Liberation Sans Narrow, Arial Narrow, DejaVu Sans Condensed, sans-serif", "titleFontSize": 24, "titleFontWeight": "normal", "titleColor": "#800080", "titleAngle": -90, "titleX": -107, "titleY": 350, "titleBaseline": "middle", "titleAlign": "center",
    "domainColor": "#800080", "domainWidth": 1.5, "tickColor": "#a0409a", "tickWidth": 1.5,
    "tickSize": {"condition": {"test": "datum.value % 5 === 0", "value": 20}, "value": 10},
    "labelExpr": "datum.value % 5 === 0 ? '' + datum.value : ''",
    "labelFont": "Liberation Sans Narrow, Arial Narrow, DejaVu Sans Condensed, sans-serif", "labelFontSize": 20, "labelFontWeight": "bold", "labelColor": "#800080", "labelPadding": 4,
    "labelOffset": {"condition": [{"test": "datum.value === 0", "value": 17}, {"test": "datum.value === 25", "value": -15}], "value": 1},
    "labelFlush": false, "labelOverlap": false, "grid": false}},
  "detail": {"field": "tr", "type": "nominal"},
  "order": {"field": "t", "type": "quantitative"}}},
{"data": {"values": [{}]},
 "mark": {"type": "rect", "fill": "transparent", "stroke": "black", "strokeWidth": 2.5},
 "encoding": {
  "x": {"datum": -176.9, "type": "quantitative", "axis": null},
  "x2": {"datum": 515.1},
  "y": {"datum": -1.865, "type": "quantitative", "axis": null},
  "y2": {"datum": 29.9}}},
{"data": {"values": [{}]},
 "mark": {"type": "rule", "color": "#800080", "strokeWidth": 1.5},
 "encoding": {
  "x": {"datum": -111.6, "type": "quantitative", "axis": null},
  "x2": {"datum": 511.5},
  "y": {"datum": 0, "type": "quantitative",
   "axis": {"orient": "right", "values": [0,1,2,3,4,5,6,7,8,9,10,11,12,13,14,15,16,17,18,19,20,21,22,23,24,25], "labels": false, "domain": false, "grid": false, "title": null, "tickColor": "#b8409f", "tickWidth": 1.5,
    "tickSize": {"condition": {"test": "datum.value % 5 === 0", "value": 17}, "value": 12}}}}},
{"data": {"values": [{}]},
 "mark": {"type": "rule", "color": "#800080", "strokeWidth": 1.5},
 "encoding": {
  "x": {"datum": -111.6, "type": "quantitative", "axis": null},
  "x2": {"datum": 511.5},
  "y": {"datum": 25, "type": "quantitative", "axis": null}}},
{"data": {"values": [{}]},
 "mark": {"type": "text", "text": "5m", "align": "center", "baseline": "alphabetic", "font": "Liberation Sans Narrow, Arial Narrow, DejaVu Sans Condensed, sans-serif", "fontSize": 32, "fontWeight": "bold", "color": "#800080"},
 "encoding": {
  "x": {"datum": 199.8, "type": "quantitative", "axis": null},
  "y": {"datum": -0.42, "type": "quantitative", "axis": null}}},
{"data": {"values": [{}]},
 "mark": {"type": "text", "text": "Trace Max", "align": "left", "baseline": "alphabetic", "font": "Liberation Sans Narrow, Arial Narrow, DejaVu Sans Condensed, sans-serif", "fontSize": 26, "fontWeight": "bold", "color": "#800080"},
 "encoding": {
  "x": {"datum": -162.2, "type": "quantitative", "axis": null},
  "y": {"datum": 28.95, "type": "quantitative", "axis": null}}},
{"data": {"values": [{}]},
 "mark": {"type": "text", "text": "GEOCHECK S.R.L.", "align": "right", "baseline": "alphabetic", "font": "Liberation Sans Narrow, Arial Narrow, DejaVu Sans Condensed, sans-serif", "fontSize": 28, "fontWeight": "bold", "color": "#800080"},
 "encoding": {
  "x": {"datum": 513.5, "type": "quantitative", "axis": null},
  "y": {"datum": 29.5, "type": "quantitative", "axis": null}}}
]
}
